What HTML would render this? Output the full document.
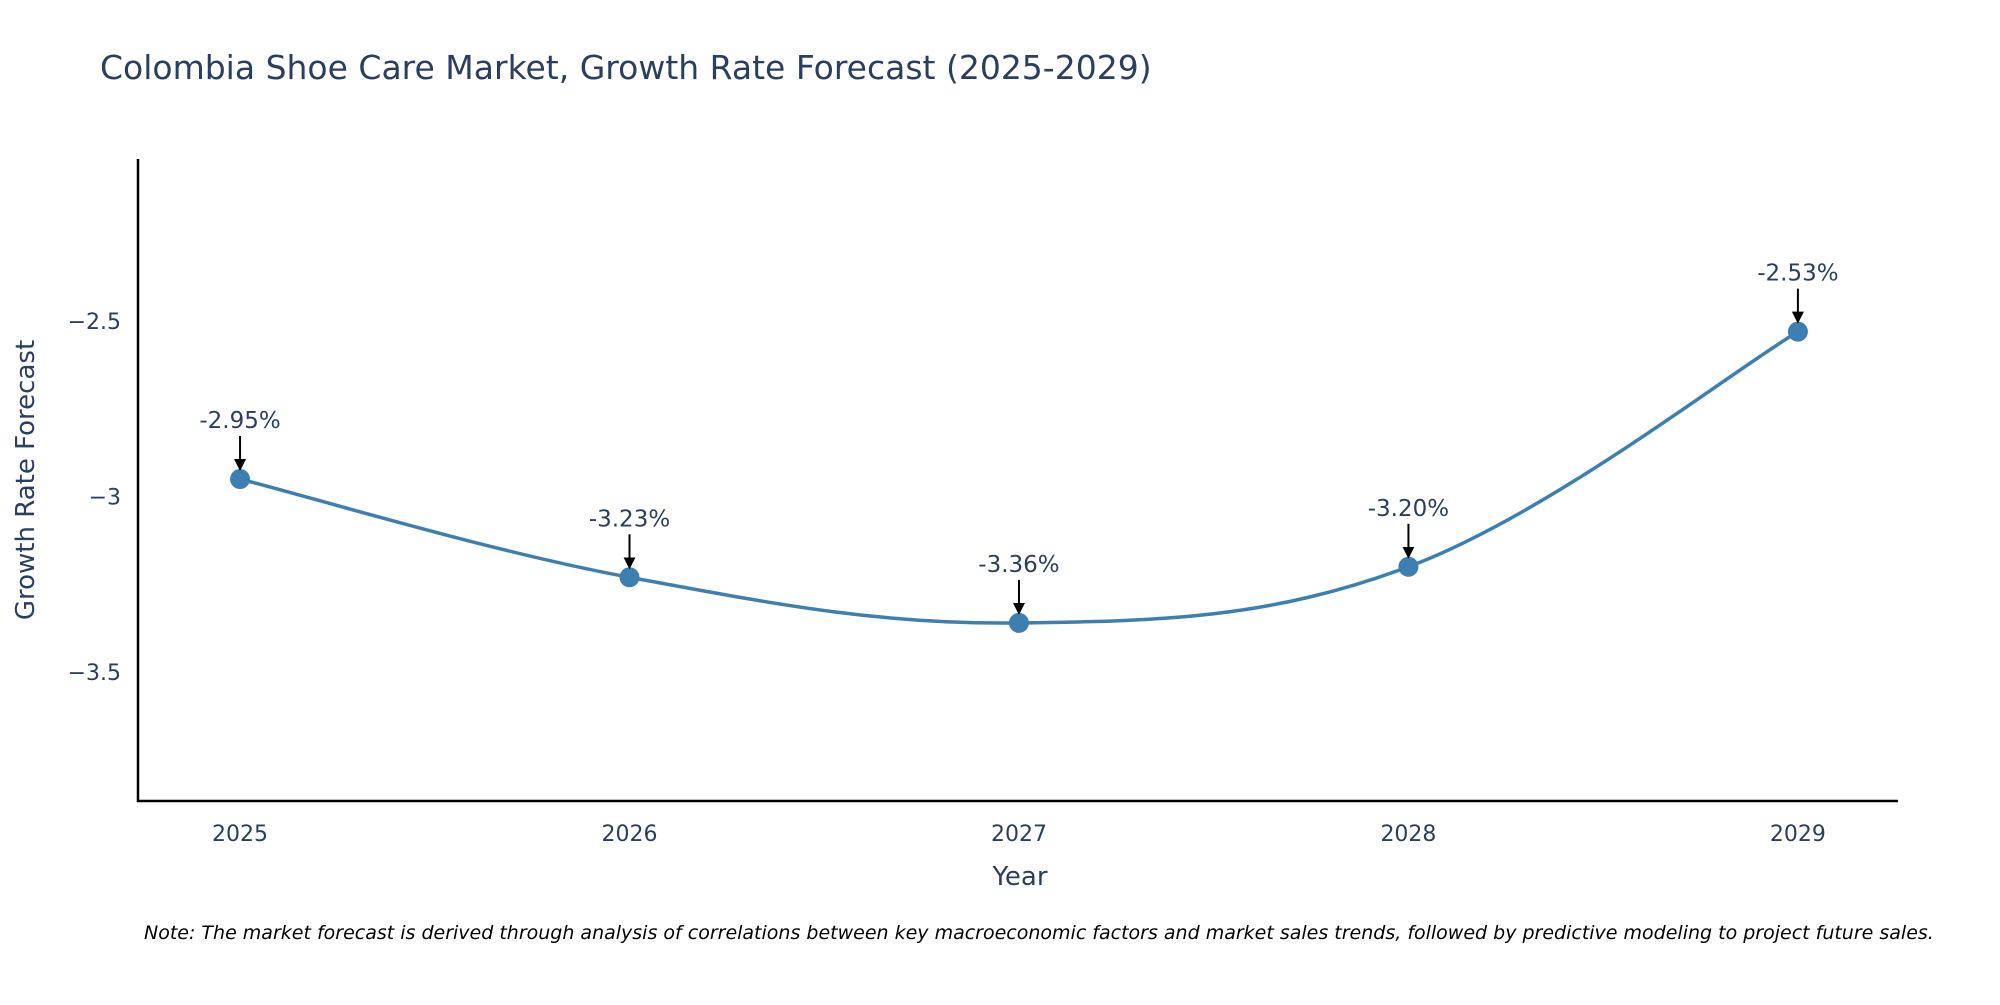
<!DOCTYPE html>
<html><head><meta charset="utf-8">
<style>
body{margin:0;background:#fff;}
svg text{font-family:"DejaVu Sans","Liberation Sans",sans-serif;}
</style></head>
<body>
<svg id="chart" width="2000" height="1000" xmlns="http://www.w3.org/2000/svg">
<rect width="2000" height="1000" fill="#fff"/>
<text x="100" y="79" font-size="33" fill="#2a3f5f">Colombia Shoe Care Market, Growth Rate Forecast (2025-2029)</text>
<g id="axes"></g>
<g id="marks"></g>
<text transform="translate(34,480) rotate(-90)" text-anchor="middle" font-size="26" fill="#2a3f5f">Growth Rate Forecast</text>
<text x="1020" y="885" text-anchor="middle" font-size="26" fill="#2a3f5f">Year</text>
<text x="144" y="939" font-size="19" font-style="italic" fill="#000">Note: The market forecast is derived through analysis of correlations between key macroeconomic factors and market sales trends, followed by predictive modeling to project future sales.</text>
</svg>
<script>
const years=[2025,2026,2027,2028,2029];
const values=[-2.95,-3.23,-3.36,-3.20,-2.53];
const labels=["-2.95%","-3.23%","-3.36%","-3.20%","-2.53%"];
const yTicks=[-2.5,-3,-3.5];
const yTickLabels=["\u22122.5","\u22123","\u22123.5"];
const L=138,R=1898,T=159,B=801;
const xMin=2024.738,xMax=2029.257,yMin=-3.8675,yMax=-2.038;
const sx=v=>L+(v-xMin)/(xMax-xMin)*(R-L);
const sy=v=>B-(v-yMin)/(yMax-yMin)*(B-T);
const NS="http://www.w3.org/2000/svg";
function mk(tag,attrs,parent){const e=document.createElementNS(NS,tag);for(const k in attrs)e.setAttribute(k,attrs[k]);parent.appendChild(e);return e;}
const axes=document.getElementById('axes'),marks=document.getElementById('marks');
let yl=mk('line',{x1:L,y1:T,x2:L,y2:B+1,stroke:'#000','stroke-width':2.5},axes);


let xl=mk('line',{x1:L-1,y1:B,x2:R,y2:B,stroke:'#000','stroke-width':2.5},axes);


yTicks.forEach((t,i)=>{const e=mk('text',{x:L-17,y:sy(t)+8,'text-anchor':'end','font-size':22,fill:'#2a3f5f'},axes);e.textContent=yTickLabels[i];

});
years.forEach(y=>{const e=mk('text',{x:sx(y),y:B+40,'text-anchor':'middle','font-size':22,fill:'#2a3f5f'},axes);e.textContent=y;

});
const pts=years.map((y,i)=>[sx(y),sy(values[i])]);
let d=`M${pts[0][0]},${pts[0][1]}`;
const k=0.18;
for(let i=0;i<pts.length-1;i++){const p0=pts[Math.max(0,i-1)],p1=pts[i],p2=pts[i+1],p3=pts[Math.min(pts.length-1,i+2)];
d+=` C${p1[0]+(p2[0]-p0[0])*k},${p1[1]+(p2[1]-p0[1])*k} ${p2[0]-(p3[0]-p1[0])*k},${p2[1]-(p3[1]-p1[1])*k} ${p2[0]},${p2[1]}`;}
const line=mk('path',{d:d,fill:'none',stroke:'#3d7fb0','stroke-width':3.5},marks);


mk('defs',{},marks).innerHTML='<marker id="ah" markerWidth="6" markerHeight="6" refX="5" refY="3" orient="auto" markerUnits="strokeWidth"><path d="M0,0 L6,3 L0,6 Z" fill="#000"/></marker>';
pts.forEach((p,i)=>{
const c=mk('circle',{cx:p[0],cy:p[1],r:10,fill:'#3d7fb0'},marks);


const a=mk('line',{x1:p[0],y1:p[1]-43,x2:p[0],y2:p[1]-10,stroke:'#000','stroke-width':2,'marker-end':'url(#ah)'},marks);


const t=mk('text',{x:p[0],y:p[1]-51,'text-anchor':'middle','font-size':23,fill:'#2a3f5f'},marks);t.textContent=labels[i];


});
</script>
</body></html>
